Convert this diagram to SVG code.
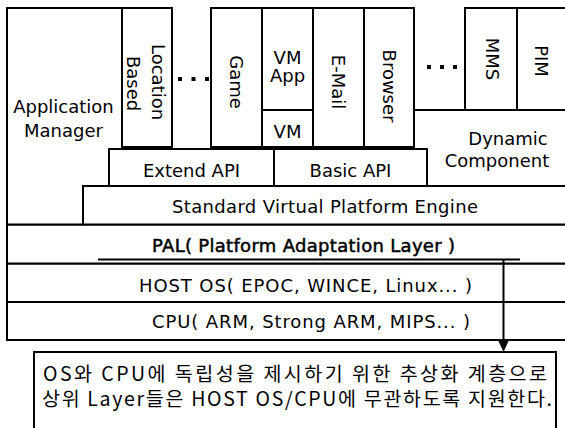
<svg xmlns="http://www.w3.org/2000/svg" width="565" height="428" viewBox="0 0 565 428">
<style>
  .box { fill: #ffffff; stroke: #000000; stroke-width: 2; }
  .ln { fill: none; stroke: #000000; stroke-width: 2; }
  .t { font-family: "DejaVu Sans", "Liberation Sans", sans-serif; font-size: 18px; fill: #000000; text-anchor: middle; }
  .kr { font-family: "Noto Sans CJK KR", "DejaVu Sans", sans-serif; font-size: 19.5px; fill: #000000; }
  .pal { stroke: #000000; stroke-width: 0.5; }
  .dot { fill: #000000; }
  .head { fill: #000000; stroke: none; }
</style>
<rect width="565" height="428" fill="#ffffff"/>

<!-- lower layers -->
<g id="cpu">
  <rect class="box" x="7" y="302" width="570" height="38"/>
  <text class="t" x="311" y="328" textLength="318">CPU( ARM, Strong ARM, MIPS... )</text>
</g>
<g id="host-os">
  <rect class="box" x="7" y="263.5" width="570" height="38.5"/>
  <text class="t" x="305.5" y="292" textLength="333">HOST OS( EPOC, WINCE, Linux... )</text>
</g>
<g id="pal">
  <rect class="box" x="7" y="224.5" width="570" height="39"/>
  <text class="t pal" x="303.5" y="252" textLength="303">PAL( Platform Adaptation Layer )</text>
</g>
<g id="standard-vpe">
  <rect class="box" x="83" y="186" width="494" height="38.5"/>
  <text class="t" x="325" y="213" textLength="306">Standard Virtual Platform Engine</text>
</g>

<!-- application manager -->
<g id="application-manager">
  <path class="box" d="M7,224.5 V8 H122 V149 H109 V186 H83 V224.5 Z"/>
  <text class="t" x="63.5" y="113">Application</text>
  <text class="t" x="63.5" y="137">Manager</text>
</g>

<!-- dynamic component -->
<g id="dynamic-component">
  <rect class="box" x="414" y="110" width="163" height="76"/>
  <text class="t" x="508" y="145">Dynamic</text>
  <text class="t" x="497" y="167">Component</text>
</g>

<!-- API boxes -->
<g id="extend-api">
  <rect class="box" x="109" y="149" width="165" height="37"/>
  <text class="t" x="191.5" y="177">Extend API</text>
</g>
<g id="basic-api">
  <rect class="box" x="274" y="149" width="153" height="37"/>
  <text class="t" x="350.5" y="177">Basic API</text>
</g>

<!-- applications -->
<g id="location-based">
  <rect class="box" x="122" y="8" width="50" height="139"/>
  <text class="t" transform="translate(152,82) rotate(90)" x="0" y="0">Location</text>
  <text class="t" transform="translate(127,83.5) rotate(90)" x="0" y="0">Based</text>
</g>
<g id="dots-left">
  <rect class="dot" x="178" y="77" width="4" height="4"/>
  <rect class="dot" x="191.5" y="77" width="4" height="4"/>
  <rect class="dot" x="205" y="77" width="4" height="4"/>
</g>
<g id="game">
  <rect class="box" x="211" y="8" width="51" height="139"/>
  <text class="t" transform="translate(230,82) rotate(90)" x="0" y="0">Game</text>
</g>
<g id="vm-app">
  <rect class="box" x="262" y="8" width="51" height="102"/>
  <text class="t" x="287.5" y="64">VM</text>
  <text class="t" x="287.5" y="82">App</text>
</g>
<g id="vm">
  <rect class="box" x="262" y="110" width="51" height="37"/>
  <text class="t" x="287.5" y="138">VM</text>
</g>
<g id="e-mail">
  <rect class="box" x="313" y="8" width="51" height="139"/>
  <text class="t" transform="translate(332,82) rotate(90)" x="0" y="0">E-Mail</text>
</g>
<g id="browser">
  <rect class="box" x="364" y="8" width="50" height="139"/>
  <text class="t" transform="translate(383,86) rotate(90)" x="0" y="0">Browser</text>
</g>
<g id="dots-right">
  <rect class="dot" x="427" y="65" width="4" height="4"/>
  <rect class="dot" x="440" y="65" width="4" height="4"/>
  <rect class="dot" x="453" y="65" width="4" height="4"/>
</g>
<g id="mms">
  <rect class="box" x="465" y="8" width="52" height="102"/>
  <text class="t" transform="translate(486,59) rotate(90)" x="0" y="0">MMS</text>
</g>
<g id="pim">
  <rect class="box" x="517" y="8" width="60" height="102"/>
  <text class="t" transform="translate(535,61) rotate(90)" x="0" y="0">PIM</text>
</g>

<!-- note -->
<g id="note">
  <rect class="box" x="34" y="352" width="522" height="84"/>
  <text class="kr" x="43" y="381" textLength="504">OS와 CPU에 독립성을 제시하기 위한 추상화 계층으로</text>
  <text class="kr" x="42" y="406" textLength="510">상위 Layer들은 HOST OS/CPU에 무관하도록 지원한다.</text>
</g>

<!-- connectors -->
<g id="connectors">
  <line class="ln" x1="98" y1="259.5" x2="520" y2="259.5"/>
  <line class="ln" x1="503.5" y1="259.5" x2="503.5" y2="342"/>
  <path class="head" d="M497.5,339 L509.5,339 L503.5,352 Z"/>
</g>
</svg>
